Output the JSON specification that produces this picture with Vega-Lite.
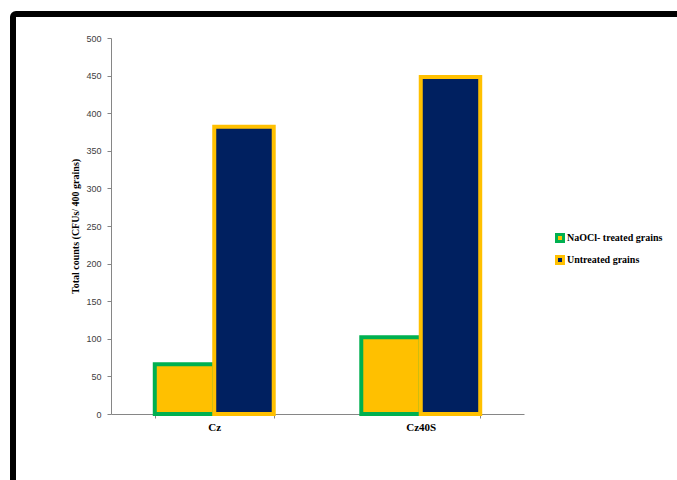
{
  "$schema": "https://vega.github.io/schema/vega-lite/v6.json",
  "autosize": {"type": "none"},
  "padding": {"left": 13, "top": 14, "right": 0, "bottom": 0},
  "width": 680,
  "height": 480,
  "background": "white",
  "config": {
    "view": {"stroke": "#000000", "strokeWidth": 6, "cornerRadius": 3, "fill": "white"}
  },
  "data": {
    "values": [
      {"strain": "Cz", "treatment": "NaOCl- treated grains", "count": 66},
      {"strain": "Cz", "treatment": "Untreated grains", "count": 382},
      {"strain": "Cz40S", "treatment": "NaOCl- treated grains", "count": 102},
      {"strain": "Cz40S", "treatment": "Untreated grains", "count": 448}
    ]
  },
  "mark": {"type": "bar", "strokeWidth": 4, "strokeJoin": "miter"},
  "encoding": {
    "x": {
      "field": "strain",
      "type": "nominal",
      "sort": ["Cz", "Cz40S"],
      "scale": {"range": [98, 511], "paddingInner": 0.424, "paddingOuter": 0.212},
      "axis": {
        "title": null,
        "orient": "bottom",
        "offset": -80,
        "labelAngle": 0,
        "tickBand": "extent",
        "domainColor": "#868686",
        "domainWidth": 1,
        "tickColor": "#868686",
        "tickSize": 4,
        "labelPadding": 3,
        "labelFont": "Liberation Serif",
        "labelFontWeight": "bold",
        "labelFontSize": 11,
        "labelColor": "#000000"
      }
    },
    "xOffset": {
      "field": "treatment",
      "type": "nominal",
      "sort": ["NaOCl- treated grains", "Untreated grains"],
      "scale": {"paddingInner": 0, "paddingOuter": 0}
    },
    "y": {
      "field": "count",
      "type": "quantitative",
      "scale": {"domain": [0, 500], "range": [400, 24], "nice": false, "zero": true},
      "axis": {
        "title": "Total counts (CFUs/ 400 grains)",
        "orient": "left",
        "offset": -98,
        "values": [0, 50, 100, 150, 200, 250, 300, 350, 400, 450, 500],
        "grid": false,
        "domainColor": "#868686",
        "domainWidth": 1,
        "tickColor": "#868686",
        "tickSize": 4,
        "labelPadding": 6,
        "labelFont": "Liberation Sans",
        "labelFontSize": 9,
        "labelColor": "#404040",
        "titleFont": "Liberation Serif",
        "titleFontWeight": "bold",
        "titleFontSize": 10,
        "titleColor": "#000000",
        "titlePadding": 5
      }
    },
    "fill": {
      "field": "treatment",
      "type": "nominal",
      "sort": ["NaOCl- treated grains", "Untreated grains"],
      "scale": {"range": ["#FFC000", "#002060"]},
      "legend": {
        "title": null,
        "orient": "none",
        "legendX": 542,
        "legendY": 219,
        "direction": "vertical",
        "symbolType": "square",
        "symbolSize": 49,
        "symbolStrokeWidth": 3,
        "labelFont": "Liberation Serif",
        "labelFontWeight": "bold",
        "labelFontSize": 10,
        "labelColor": "#000000",
        "labelOffset": 2,
        "rowPadding": 2,
        "encode": {
          "symbols": {
            "update": {
              "stroke": {"scale": "stroke", "field": "value"},
              "strokeWidth": {"value": 3}
            }
          }
        }
      }
    },
    "stroke": {
      "field": "treatment",
      "type": "nominal",
      "sort": ["NaOCl- treated grains", "Untreated grains"],
      "scale": {"range": ["#00B050", "#FFC000"]},
      "legend": null
    }
  }
}
